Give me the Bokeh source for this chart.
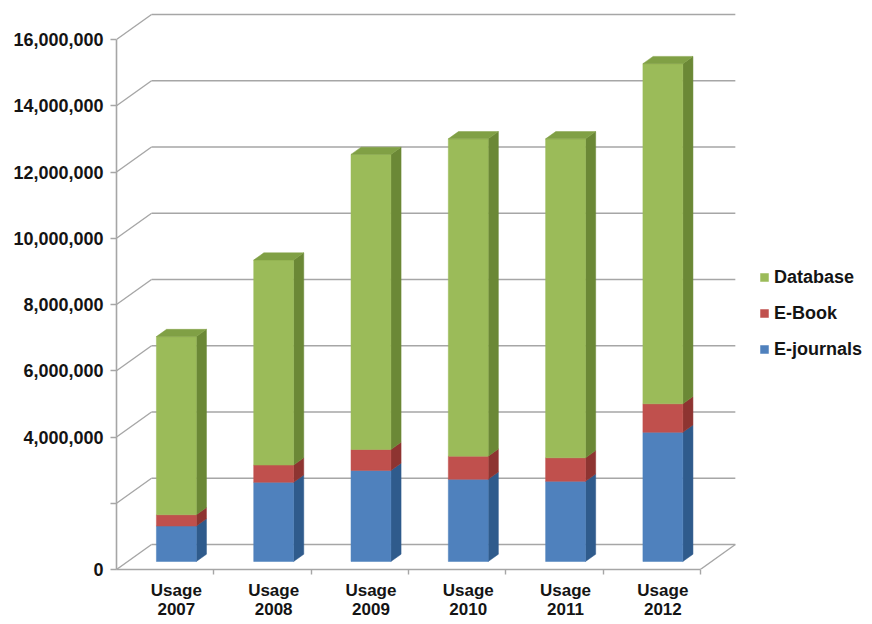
from bokeh.plotting import figure
from bokeh.models import (ColumnDataSource, FixedTicker, Legend, LegendItem,
                          Range1d, NumeralTickFormatter)
from bokeh.embed import file_html
from bokeh.resources import INLINE

# Yearly usage of the library's electronic resources
years = ["2007", "2008", "2009", "2010", "2011", "2012"]
ejournals = [1070000, 2390000, 2750000, 2480000, 2420000, 3900000]
ebook = [340000, 520000, 630000, 700000, 710000, 860000]
database = [5380000, 6190000, 8910000, 9580000, 9630000, 10270000]

series_names = ["E-journals", "E-Book", "Database"]
series_values = [ejournals, ebook, database]
front_colors = ["#4F81BD", "#C0504D", "#9BBB59"]
side_colors = ["#2F5B8C", "#8E3431", "#6B8836"]
top_colors = ["#3F6FA8", "#A8423F", "#80A045"]

y_ticks = list(range(0, 16_000_001, 2_000_000))
unlabelled_ticks = [2_000_000]

FONT = "Liberation Sans"
TEXT = "#141414"
GRID = "#A6A6A6"

# depth of the pseudo 3-D box in data units (x: category slots, y: usage)
DX = 0.36
DY = 755_000
BAR_Z0 = 0.32      # front face of the columns, as a fraction of box depth
BAR_DZ = 0.29      # column depth, as a fraction of box depth
BAR_W = 0.41       # column width in category slots

n = len(years)

p = figure(width=872, height=624, output_backend="svg", toolbar_location=None,
           x_range=Range1d(0, 7.667), y_range=Range1d(0, 17_027_000),
           min_border_left=116, min_border_right=10,
           min_border_top=5, min_border_bottom=55)
p.outline_line_color = None
p.grid.visible = False
p.background_fill_color = "white"

# back wall gridlines and the slanted lines joining them to the value axis
for v in y_ticks:
    p.segment(x0=DX, y0=v + DY, x1=n + DX, y1=v + DY,
              line_color=GRID, line_width=1.6)
    p.segment(x0=0, y0=v, x1=DX, y1=v + DY, line_color=GRID, line_width=1.4)
# right edge of the floor
p.segment(x0=n, y0=0, x1=n + DX, y1=DY, line_color=GRID, line_width=1.4)

# stacked columns: front faces, side faces and a top face on the last segment
centers = [i + 0.5 + BAR_Z0 * DX for i in range(n)]
oy = BAR_Z0 * DY
ddx = BAR_DZ * DX
ddy = BAR_DZ * DY
half = BAR_W / 2

bottoms = [0] * n
legend_renderers = {}
for k, (name, vals) in enumerate(zip(series_names, series_values)):
    tops = [b + v for b, v in zip(bottoms, vals)]
    side_xs, side_ys = [], []
    for c, b, t in zip(centers, bottoms, tops):
        side_xs.append([c + half, c + half + ddx, c + half + ddx, c + half])
        side_ys.append([b + oy, b + oy + ddy, t + oy + ddy, t + oy])
    p.patches(xs=side_xs, ys=side_ys, fill_color=side_colors[k],
              line_color=side_colors[k], line_width=0.5)
    src = ColumnDataSource(dict(x=centers,
                                bottom=[b + oy for b in bottoms],
                                top=[t + oy for t in tops]))
    r = p.vbar(x="x", width=BAR_W, bottom="bottom", top="top", source=src,
               fill_color=front_colors[k], line_color=front_colors[k],
               line_width=0.5)
    legend_renderers[name] = r
    if k == len(series_names) - 1:
        top_xs, top_ys = [], []
        for c, t in zip(centers, tops):
            top_xs.append([c - half, c + half, c + half + ddx, c - half + ddx])
            top_ys.append([t + oy, t + oy, t + oy + ddy, t + oy + ddy])
        p.patches(xs=top_xs, ys=top_ys, fill_color=top_colors[k],
                  line_color=top_colors[k], line_width=0.5)
    bottoms = tops

# value axis
ya = p.yaxis[0]
ya.ticker = FixedTicker(ticks=y_ticks)
ya.formatter = NumeralTickFormatter(format="0,0")
ya.major_label_overrides = {t: "" for t in unlabelled_ticks}
ya.bounds = (0, y_ticks[-1])
ya.axis_line_color = GRID
ya.axis_line_width = 1.6
ya.major_tick_line_color = GRID
ya.major_tick_line_width = 1.4
ya.major_tick_out = 6
ya.major_tick_in = 0
ya.minor_tick_line_color = None
ya.major_label_standoff = 7
ya.major_label_text_font = FONT
ya.major_label_text_font_style = "bold"
ya.major_label_text_font_size = "18px"
ya.major_label_text_color = TEXT

# category axis, drawn as the front edge of the floor
xa = p.xaxis[0]
xa.ticker = FixedTicker(ticks=centers, minor_ticks=list(range(1, n + 1)))
xa.major_label_overrides = {c: "Usage\n" + y for c, y in zip(centers, years)}
xa.bounds = (0, n)
xa.axis_line_color = GRID
xa.axis_line_width = 1.6
xa.major_tick_line_color = None
xa.minor_tick_line_color = GRID
xa.minor_tick_line_width = 1.4
xa.minor_tick_out = 5
xa.minor_tick_in = 0
xa.major_label_standoff = 5
xa.major_label_text_font = FONT
xa.major_label_text_font_style = "bold"
xa.major_label_text_font_size = "17px"
xa.major_label_text_color = TEXT
xa.major_label_text_line_height = 1.0

legend = Legend(
    items=[LegendItem(label=name, renderers=[legend_renderers[name]])
           for name in reversed(series_names)],
    location=(643, 208), orientation="vertical",
    padding=0, margin=0, spacing=12, label_height=24,
    glyph_width=10, glyph_height=10, label_standoff=5,
    border_line_color=None, background_fill_alpha=0,
    label_text_font=FONT, label_text_font_style="bold",
    label_text_font_size="18px", label_text_color=TEXT)
p.add_layout(legend)

open("out.html", "w").write(file_html(p, INLINE))
